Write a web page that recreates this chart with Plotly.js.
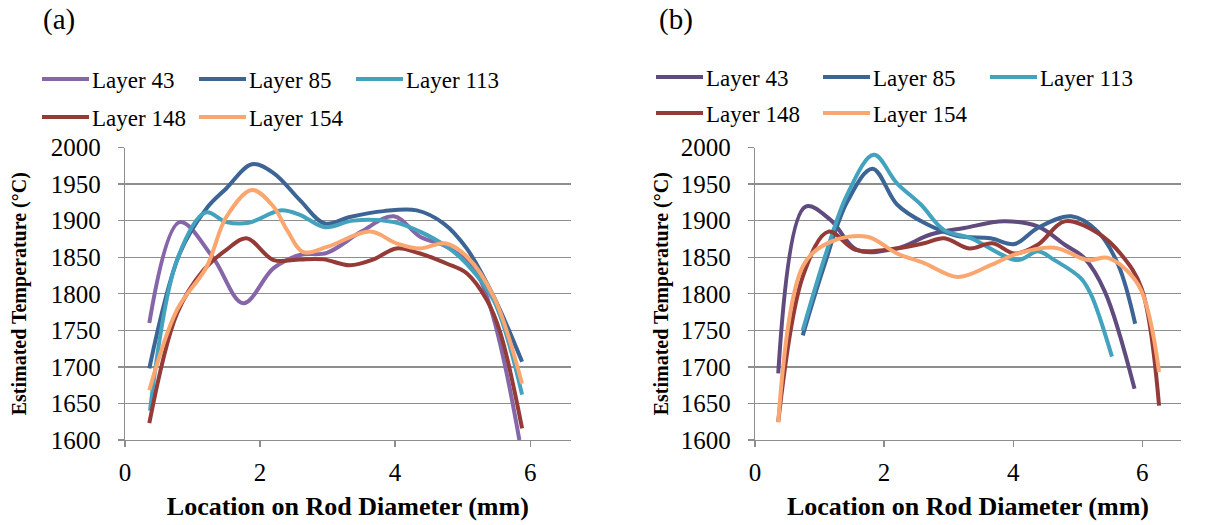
<!DOCTYPE html>
<html>
<head>
<meta charset="utf-8">
<script src="https://cdn.plot.ly/plotly-3.0.1.min.js"></script>
<style>html,body{margin:0;padding:0;background:#fff;}#chart{width:1217px;height:525px;}</style>
</head>
<body>
<div id="chart"></div>
<script>
// ---------- Data ----------
const layerNames = ["Layer 43", "Layer 85", "Layer 113", "Layer 148", "Layer 154"];

// Panel (a)
const a43x  = [0.36, 0.81, 1.30, 1.75, 2.20, 2.59, 2.99, 3.50, 3.98, 4.37, 4.77, 5.21, 5.84];
const a43y  = [1760, 1898, 1850, 1787, 1835, 1853, 1856, 1885, 1906, 1878, 1864, 1828, 1600];
const a85x  = [0.36, 0.81, 1.21, 1.50, 1.88, 2.20, 2.59, 2.96, 3.33, 3.83, 4.32, 4.72, 5.06, 5.46, 5.88];
const a85y  = [1698, 1855, 1917, 1944, 1977, 1965, 1928, 1896, 1905, 1913, 1914, 1896, 1862, 1796, 1707];
const a113x = [0.37, 0.77, 1.19, 1.50, 1.83, 2.30, 2.59, 2.96, 3.38, 3.98, 4.37, 4.77, 5.06, 5.46, 5.88];
const a113y = [1640, 1846, 1911, 1898, 1897, 1914, 1908, 1891, 1900, 1898, 1885, 1864, 1841, 1791, 1662];
const a148x = [0.36, 0.77, 1.16, 1.50, 1.80, 2.20, 2.59, 2.94, 3.33, 3.68, 4.02, 4.37, 4.77, 5.06, 5.36, 5.56, 5.88];
const a148y = [1623, 1773, 1832, 1860, 1876, 1846, 1847, 1847, 1839, 1847, 1862, 1855, 1841, 1828, 1791, 1746, 1616];
const a154x = [0.36, 0.77, 1.21, 1.50, 1.88, 2.20, 2.40, 2.64, 2.99, 3.63, 4.02, 4.37, 4.74, 5.06, 5.46, 5.88];
const a154y = [1668, 1778, 1837, 1905, 1942, 1919, 1887, 1857, 1864, 1885, 1869, 1862, 1869, 1851, 1796, 1677];

// Panel (b)
const b43x  = [0.36, 0.78, 1.17, 1.58, 2.20, 2.72, 3.24, 3.86, 4.38, 4.80, 5.10, 5.42, 5.88];
const b43y  = [1691, 1919, 1901, 1860, 1862, 1881, 1890, 1899, 1892, 1867, 1849, 1803, 1670];
const b85x  = [0.74, 1.06, 1.43, 1.82, 2.20, 2.62, 3.14, 3.65, 4.02, 4.38, 4.90, 5.31, 5.63, 5.89];
const b85y  = [1743, 1835, 1926, 1971, 1922, 1897, 1879, 1876, 1868, 1890, 1906, 1885, 1839, 1759];
const b113x = [0.74, 1.11, 1.43, 1.84, 2.20, 2.57, 2.93, 3.34, 4.07, 4.38, 4.64, 5.05, 5.21, 5.53];
const b113y = [1750, 1858, 1936, 1990, 1951, 1922, 1887, 1876, 1846, 1858, 1846, 1821, 1798, 1714];
const b148x = [0.36, 0.75, 1.14, 1.56, 2.20, 2.62, 2.93, 3.32, 3.68, 4.02, 4.38, 4.80, 5.31, 5.68, 5.99, 6.26];
const b148y = [1625, 1826, 1885, 1860, 1862, 1869, 1876, 1862, 1869, 1855, 1867, 1899, 1883, 1853, 1807, 1647];
const b154x = [0.36, 0.75, 1.17, 1.74, 2.20, 2.62, 3.14, 3.65, 4.07, 4.64, 5.16, 5.47, 5.94, 6.26];
const b154y = [1624, 1839, 1871, 1878, 1855, 1842, 1823, 1839, 1855, 1863, 1846, 1849, 1812, 1693];

const xTickVals = [0, 2, 4, 6];
const yTickVals = [1600, 1650, 1700, 1750, 1800, 1850, 1900, 1950, 2000];
const xTitle = "Location on Rod Diameter (mm)";
const yTitle = "Estimated Temperature (°C)";
const panelLabels = ["(a)", "(b)"];

// ---------- Styling ----------
const colorsA = ["#8566A8", "#3C6494", "#43A2BD", "#943B38", "#F9A670"];
const colorsB = ["#5F4B7E", "#3C6494", "#43A2BD", "#943B38", "#F9A670"];
const FONT = '"Liberation Serif", "Times New Roman", Times, serif';
const GRID = "#8e8e8e";

const seriesA = [[a43x, a43y], [a85x, a85y], [a113x, a113y], [a148x, a148y], [a154x, a154y]];
const seriesB = [[b43x, b43y], [b85x, b85y], [b113x, b113y], [b148x, b148y], [b154x, b154y]];

const traces = [];
seriesA.forEach((s, i) => {
  traces.push({
    x: s[0], y: s[1], name: layerNames[i], type: "scatter", mode: "lines",
    line: {color: colorsA[i], width: 4, shape: "spline", smoothing: 1},
    xaxis: "x", yaxis: "y", legend: i < 3 ? "legend" : "legend2"
  });
});
seriesB.forEach((s, i) => {
  traces.push({
    x: s[0], y: s[1], name: layerNames[i], type: "scatter", mode: "lines",
    line: {color: colorsB[i], width: 4, shape: "spline", smoothing: 1},
    xaxis: "x2", yaxis: "y2", legend: i < 3 ? "legend3" : "legend4"
  });
});

const W = 1217, H = 525;
function xa(d0, d1, anchor) {
  return {
    domain: [d0 / W, d1 / W], anchor: anchor, range: [0, 6.6],
    tickvals: xTickVals, ticks: "outside", ticklen: 6, tickcolor: GRID, tickwidth: 1.3,
    showline: true, linecolor: GRID, linewidth: 1.3, showgrid: false, zeroline: false,
    tickfont: {family: FONT, size: 25, color: "#000"}, ticklabelstandoff: 4,
    title: {text: xTitle, font: {family: FONT, size: 26, color: "#000", weight: "bold"}, standoff: 11},
    fixedrange: true
  };
}
function ya(anchor, standoff) {
  return {
    domain: [(H - 440) / H, (H - 147.5) / H], anchor: anchor, range: [1600, 2000],
    tickvals: yTickVals, ticks: "outside", ticklen: 6, tickcolor: GRID, tickwidth: 1.3,
    showline: true, linecolor: GRID, linewidth: 1.3, showgrid: true, gridcolor: GRID, gridwidth: 1.3,
    zeroline: false,
    tickfont: {family: FONT, size: 25, color: "#000"}, ticklabelstandoff: 12,
    title: {text: yTitle, font: {family: FONT, size: 20, color: "#000", weight: "bold"}, standoff: standoff},
    fixedrange: true
  };
}
function lg(xpx, ypx, ew) {
  return {
    orientation: "h", x: xpx / W, y: 1 - ypx / H, xanchor: "left", yanchor: "middle",
    font: {family: FONT, size: 23, color: "#000"}, bgcolor: "rgba(0,0,0,0)",
    itemwidth: 45, entrywidth: ew, entrywidthmode: "pixels", traceorder: "normal"
  };
}

const layout = {
  width: W, height: H, margin: {l: 0, r: 0, t: 0, b: 0},
  font: {family: FONT, size: 24, color: "#000"},
  paper_bgcolor: "#fff", plot_bgcolor: "#fff",
  showlegend: true,
  xaxis: xa(125, 570.7, "y"),
  yaxis: ya("x", 18),
  xaxis2: xa(755, 1181, "y2"),
  yaxis2: ya("x2", 6),
  legend: lg(37, 79, 97),
  legend2: lg(37, 117, 97),
  legend3: lg(651, 77, 107),
  legend4: lg(651, 113, 107),
  annotations: [
    {text: panelLabels[0], xref: "paper", yref: "paper", x: 59 / W, y: 1 - 20 / H, xanchor: "center", yanchor: "middle", showarrow: false, font: {family: FONT, size: 29, color: "#000"}},
    {text: panelLabels[1], xref: "paper", yref: "paper", x: 676 / W, y: 1 - 20 / H, xanchor: "center", yanchor: "middle", showarrow: false, font: {family: FONT, size: 29, color: "#000"}}
  ]
};

function stretchLegendLines() {
  document.querySelectorAll("#chart .legendlines path").forEach(p => p.setAttribute("d", "M5,0h47"));
}
Plotly.newPlot("chart", traces, layout, {staticPlot: true, displayModeBar: false}).then(stretchLegendLines);
</script>
</body>
</html>
